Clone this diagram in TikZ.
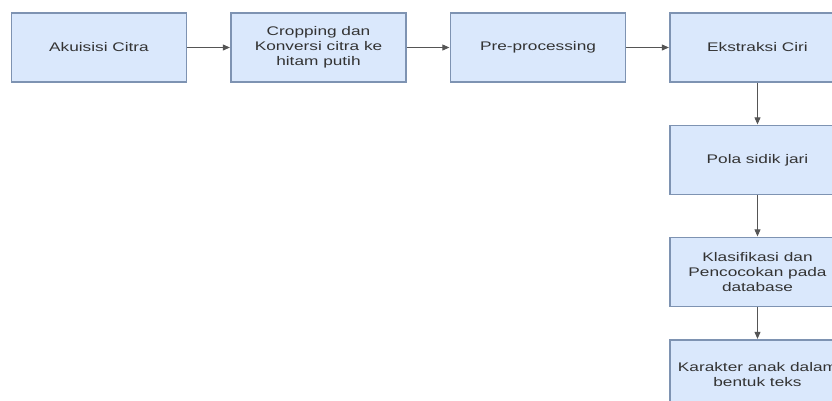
\documentclass[tikz,border=0pt]{standalone}
\usepackage{fontspec}
\setmainfont{Liberation Sans}[FakeStretch=1.38]
\usetikzlibrary{arrows.meta}
\definecolor{boxfill}{HTML}{DAE8FC}
\definecolor{boxdraw}{HTML}{7E93B2}
\definecolor{linecol}{HTML}{555555}
\begin{document}
\begin{tikzpicture}[x=1pt,y=-1pt,
  stepbox/.style={draw=boxdraw, line width=1.3pt, fill=boxfill, minimum width=175pt, minimum height=69pt,
    inner sep=0pt, align=center, font=\fontsize{12.5}{15}\selectfont, text=black!80},
  conn/.style={draw=linecol, line width=0.9pt, -{Triangle[length=7pt,width=6pt]}, shorten >=0.5pt}]
\clip (0,0) rectangle (832,400);
\fill[white] (0,0) rectangle (832,400);
\node[stepbox] (a) at (99,47.5) {Akuisisi Citra};
\node[stepbox] (b) at (318.5,47.5) {Cropping dan\\Konversi citra ke\\hitam putih};
\node[stepbox] (c) at (538,47.5) {Pre-processing};
\node[stepbox] (d) at (757.5,47.5) {Ekstraksi Ciri};
\node[stepbox] (e) at (757.5,160) {Pola sidik jari};
\node[stepbox] (f) at (757.5,272) {Klasifikasi dan\\Pencocokan pada\\database};
\node[stepbox] (g) at (757.5,374.5) {Karakter anak dalam\\bentuk teks};
\draw[conn] (a) -- (b);
\draw[conn] (b) -- (c);
\draw[conn] (c) -- (d);
\draw[conn] (d) -- (e);
\draw[conn] (e) -- (f);
\draw[conn] (f) -- (g);
\end{tikzpicture}
\end{document}
